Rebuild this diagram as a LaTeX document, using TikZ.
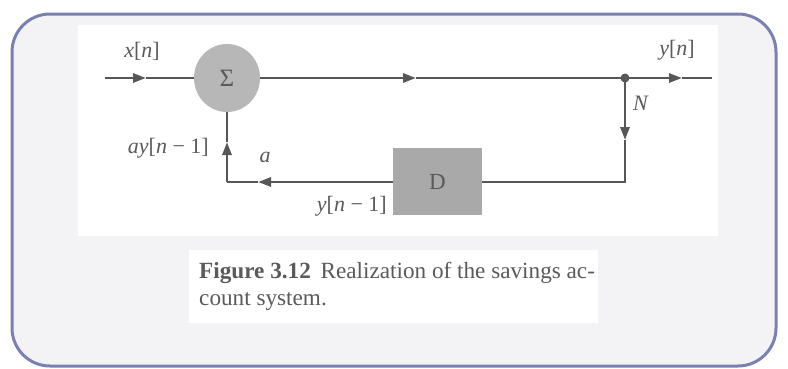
\documentclass[tikz,border=0pt]{standalone}
\usepackage{fontspec}
\setmainfont{Liberation Serif}
\usetikzlibrary{arrows.meta,shapes.geometric}
\definecolor{ln}{HTML}{575757}
\definecolor{txt}{HTML}{5A5A5A}
\definecolor{circ}{HTML}{B7B7B7}
\definecolor{dbox}{HTML}{A9A9A9}
\definecolor{frame}{HTML}{7A80B0}
\definecolor{bg}{HTML}{F3F3F5}
\tikzset{
  wire/.style={draw=ln, line width=2.8pt},
  arr/.style={wire, -{Triangle[length=13pt,width=9pt]}},
  lbl/.style={text=txt, font=\fontsize{22}{24}\selectfont, inner sep=0pt},
}
\begin{document}
\begin{tikzpicture}[x=1pt,y=-1pt]
\useasboundingbox (0,0) rectangle (788,368);
\fill[white] (0,0) rectangle (788,368);
\draw[frame, fill=bg, line width=3pt, rounded corners=38pt] (12,14) rectangle (776,366);
\fill[white] (78,25) rectangle (718,236);
\fill[white] (189,250) rectangle (598,323);
% nodes
\node[ellipse, fill=circ, minimum width=66pt, minimum height=68pt, inner sep=0pt, text=txt, font=\fontsize{25}{25}\selectfont] (sum) at (227,78) {Σ};
\node[rectangle, fill=dbox, minimum width=89pt, minimum height=67pt, inner sep=0pt, text=txt, font=\fontsize{23}{23}\selectfont] (D) at (437.5,181.5) {D};
\coordinate (in) at (105,78);
\coordinate (inm) at (146,78);
\coordinate (mm) at (416,78);
\coordinate (j) at (625,78);
\coordinate (om) at (682,78);
\coordinate (out) at (712,78);
\coordinate (jm) at (625,140);
\coordinate (br) at (625,182);
\coordinate (bl) at (227,182);
\coordinate (lm) at (258,182);
\coordinate (um) at (227,142);
% wires
\draw[arr] (in) -- (inm);
\draw[wire] (inm) -- (sum.west);
\draw[arr] (sum.east) -- (mm);
\draw[wire] (mm) -- (j);
\draw[arr] (j) -- (om);
\draw[wire] (om) -- (out);
\fill[ln] (j) circle (4.5pt);
\draw[arr] (j) -- (jm);
\draw[wire] (jm) -- (br) -- (D.east |- br);
\draw[arr] (D.west |- bl) -- (lm);
\draw[wire] (lm) -- (bl);
\draw[arr] (bl) -- (um);
\draw[wire] (um) -- (sum.south);
% labels
\node[lbl] (lx) at (142,51) {\textit{x}[\textit{n}]};
\node[lbl] (ly) at (677,50) {\textit{y}[\textit{n}]};
\node[lbl] (lN) at (641,103) {\textit{N}};
\node[lbl, anchor=east] (lay) at (209,148) {\textit{ay}[\textit{n} − 1]};
\node[lbl] (la) at (265,157) {\textit{a}};
\node[lbl, anchor=east] (lyn) at (387,206) {\textit{y}[\textit{n} − 1]};
% caption
\node[text=txt, anchor=north west, align=left, inner sep=0pt, font=\fontsize{23.2}{27}\selectfont] (cap) at (199,262) {\textbf{Figure 3.12}\, Realization of the savings ac-\\count system.};
\end{tikzpicture}
\end{document}
